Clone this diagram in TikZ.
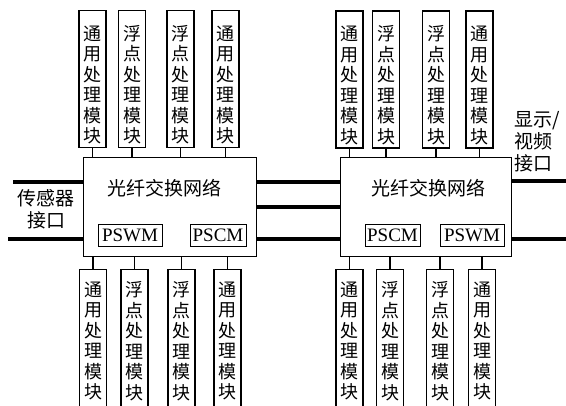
\documentclass[tikz,border=0pt]{standalone}
\usepackage{fontspec}
\setmainfont{Liberation Serif}
\newfontfamily\cjk{Noto Sans CJK SC}
\newcommand\tyMod{通\\用\\处\\理\\模\\块}
\newcommand\fdMod{浮\\点\\处\\理\\模\\块}
\newcommand\tyModT{\rule{0pt}{26pt}通\\用\\处\\理\\模\\块}
\newcommand\fdModT{\rule{0pt}{26pt}浮\\点\\处\\理\\模\\块}
\begin{document}
\begin{tikzpicture}[x=1pt,y=-1pt,
  mod/.style={draw, line width=1.1pt, minimum width=27pt, minimum height=137pt, inner sep=0pt,
    font=\cjk\fontsize{18}{20.5}\selectfont, align=center},
  bmod/.style={mod, anchor=north, minimum height=143pt},
  netbox/.style={draw, line width=0.9pt, inner sep=0pt},
  tag/.style={draw, line width=0.9pt, minimum height=22pt, inner sep=0pt, font=\fontsize{19}{20}\selectfont},
  bus/.style={line width=3.8pt},
  stub/.style={line width=1.1pt},
  lbl/.style={font=\cjk\fontsize{19}{22}\selectfont, inner sep=0pt}]
\useasboundingbox (0,0) rectangle (566,406);
\clip (0,0) rectangle (566,406);
% main boxes
\node[netbox, minimum width=173pt, minimum height=99pt] (L) at (169.5,206.5) {};
\node[netbox, minimum width=171pt, minimum height=99pt] (R) at (425.5,206.5) {};
\node[lbl] (Lt) at (164,188) {光纤交换网络};
\node[lbl] (Rt) at (428,188) {光纤交换网络};
% tags
\node[tag, minimum width=64pt] (Lw) at (130,235) {PSWM};
\node[tag, minimum width=56pt] (Lc) at (218,235) {PSCM};
\node[tag, minimum width=55pt] (Rc) at (392.5,235) {PSCM};
\node[tag, minimum width=64pt] (Rw) at (472,235) {PSWM};
% top modules
\node[mod] (t1) at (92.5,79) {\tyModT};
\node[mod] (t2) at (132,79) {\fdModT};
\node[mod] (t3) at (180.5,79) {\fdModT};
\node[mod] (t4) at (225.5,79) {\tyModT};
\node[mod] (t5) at (349.5,79.5) {\tyModT};
\node[mod] (t6) at (386,79.5) {\fdModT};
\node[mod] (t7) at (436,79.5) {\fdModT};
\node[mod] (t8) at (479.5,79.5) {\tyModT};
% bottom modules
\node[bmod] (b1) at (93,269) {\tyMod};
\node[bmod] (b2) at (134.5,269) {\fdMod};
\node[bmod] (b3) at (181.5,269) {\fdMod};
\node[bmod] (b4) at (227.5,269) {\tyMod};
\node[bmod] (b5) at (349.5,269) {\tyMod};
\node[bmod] (b6) at (390,269) {\fdMod};
\node[bmod] (b7) at (440,269) {\fdMod};
\node[bmod] (b8) at (482,269) {\tyMod};
% stubs
\foreach \m in {t1,t2,t3,t4} \draw[stub] (\m.south) -- (\m.south |- L.north);
\foreach \m in {t5,t6,t7,t8} \draw[stub] (\m.south) -- (\m.south |- R.north);
\foreach \m in {b1,b2,b3,b4} \draw[stub] (\m.north) -- (\m.north |- L.south);
\foreach \m in {b5,b6,b7,b8} \draw[stub] (\m.north) -- (\m.north |- R.south);
% buses
\coordinate (s1) at (13,182);
\coordinate (s2) at (8,239);
\coordinate (d1) at (566,181);
\coordinate (d2) at (566,239);
\draw[bus] (s1) -- (s1 -| L.west);
\draw[bus] (s2) -- (s2 -| L.west);
\draw[bus] (L.east |- 0,182) -- (R.west |- 0,182);
\draw[bus] (L.east |- 0,207) -- (R.west |- 0,207);
\draw[bus] (L.east |- 0,239) -- (R.west |- 0,239);
\draw[bus] (d1 -| R.east) -- (d1);
\draw[bus] (d2 -| R.east) -- (d2);
% interface labels
\node[lbl, align=center] (sens) at (46,209) {传感器\\接口};
\node[lbl, align=left, anchor=west] (disp) at (514,142) {显示/\\视频\\接口};
\end{tikzpicture}
\end{document}
